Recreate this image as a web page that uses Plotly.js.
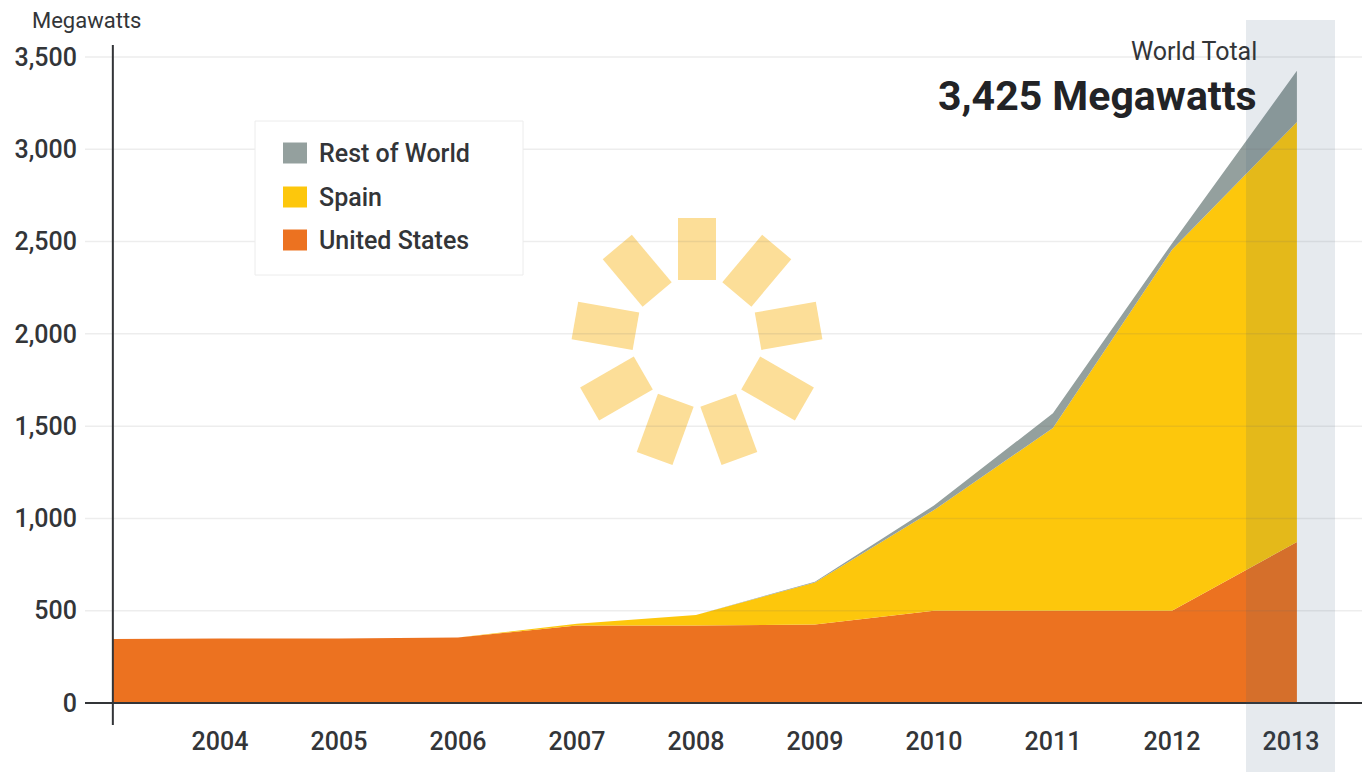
<!DOCTYPE html>
<html>
<head>
<meta charset="utf-8">
<script src="https://cdn.plot.ly/plotly-3.0.1.min.js"></script>
<style>html,body{margin:0;padding:0;background:#fff;overflow:hidden}#chart{width:1362px;height:772px}</style>
</head>
<body>
<div id="chart"></div>
<script>
// Installed solar-thermal capacity by region, megawatts (stacked increments)
const years = [2003.1, 2004, 2005, 2006, 2007, 2008, 2009, 2010, 2011, 2012, 2013.05];
const unitedStates = [347, 350, 350, 355, 420, 420, 425, 500, 500, 500, 872];
const spain = [0, 0, 0, 0, 10, 57, 228, 545, 990, 1955, 2276];
const restOfWorld = [0, 0, 0, 0, 0, 0, 4, 25, 80, 35, 277];

const yearTicks = [2004, 2005, 2006, 2007, 2008, 2009, 2010, 2011, 2012, 2013];
const valueTicks = [0, 500, 1000, 1500, 2000, 2500, 3000, 3500];

const seriesNames = ['United States', 'Spain', 'Rest of World'];
const seriesColors = ['#EC7220', '#FDC70C', '#94A09E'];
const seriesValues = [unitedStates, spain, restOfWorld];

const ink = '#333538';
const fontFamily = 'Roboto, "Liberation Sans", sans-serif';

// Page frame of the plot area
const W = 1362, H = 772, plotL = 85, plotT = 20;
const px = v => (v - plotL) / (W - plotL);
const py = v => 1 - (v - plotT) / (H - plotT);

const traces = seriesNames.map((name, i) => ({
  type: 'scatter', mode: 'none', name, x: years, y: seriesValues[i],
  stackgroup: 'capacity', fillcolor: seriesColors[i], hoverinfo: 'x+y+name'
}));

const shapes = [];

// Sun emblem: nine rays spaced 40 degrees apart, behind the gridlines
const sunX = 697, sunY = 342, rayIn = 62, rayOut = 124, rayHalf = 19;
const rayAngles = [0, 40, 80, 120, 160, 200, 240, 280, 320];
rayAngles.forEach(deg => {
  const a = deg * Math.PI / 180, ux = Math.sin(a), uy = -Math.cos(a), nx = -uy, ny = ux;
  const corners = [[rayIn, -rayHalf], [rayOut, -rayHalf], [rayOut, rayHalf], [rayIn, rayHalf]]
    .map(([r, s]) => `${px(sunX + ux * r + nx * s)},${py(sunY + uy * r + ny * s)}`);
  shapes.push({
    type: 'path', xref: 'paper', yref: 'paper', layer: 'below',
    path: 'M' + corners.join('L') + 'Z', fillcolor: '#FCDE98', line: { width: 0 }
  });
});

// Gridlines run over the stacked areas, so they are translucent overlays
valueTicks.filter(v => v > 0).forEach(v => shapes.push({
  type: 'line', xref: 'paper', yref: 'y', x0: 0, x1: 1, y0: v, y1: v, layer: 'above',
  line: { color: 'rgba(110,110,110,0.12)', width: 1.5 }
}));

// Highlight band for the latest year
shapes.push({
  type: 'rect', xref: 'paper', yref: 'paper', layer: 'above',
  x0: px(1246), x1: px(1335), y0: 0, y1: 1,
  fillcolor: 'rgba(62,91,126,0.13)', line: { width: 0 }
});

// Vertical axis rule
shapes.push({
  type: 'line', xref: 'x', yref: 'y', x0: 2003.1, x1: 2003.1, y0: -119, y1: 3565, layer: 'above',
  line: { color: ink, width: 2 }
});

// Legend panel and swatches
shapes.push({
  type: 'rect', xref: 'paper', yref: 'paper', layer: 'above',
  x0: px(255), x1: px(523), y0: py(275), y1: py(121),
  fillcolor: '#fff', line: { color: '#ECECEC', width: 1 }
});
const legendRows = [2, 1, 0];
const legendY = [153, 197, 240];
legendRows.forEach((s, row) => shapes.push({
  type: 'rect', xref: 'paper', yref: 'paper', layer: 'above',
  x0: px(283), x1: px(307), y0: py(legendY[row] + 10.5), y1: py(legendY[row] - 10.5),
  fillcolor: seriesColors[s], line: { width: 0 }
}));

const note = (x, y, text, size, anchor, weight, color) => ({
  xref: 'paper', yref: 'paper', x: px(x), y: py(y), text, showarrow: false,
  xanchor: anchor, yanchor: 'middle', borderpad: 0,
  font: { family: fontFamily, size, color: color || ink, weight: weight || 400 }
});

const annotations = [
  note(31, 21, 'Megawatts', 22, 'left'),
  note(1258, 52, 'World Total', 25, 'right'),
  note(1258, 96, '3,425 Megawatts', 41, 'right', 700, '#222326')
];
legendRows.forEach((s, row) => annotations.push(note(318, legendY[row], seriesNames[s], 25, 'left', 500)));

const layout = {
  width: W, height: H, showlegend: false,
  margin: { l: plotL, r: 0, t: plotT, b: 0, pad: 0 },
  paper_bgcolor: 'rgba(0,0,0,0)', plot_bgcolor: 'rgba(0,0,0,0)',
  font: { family: fontFamily, color: ink },
  xaxis: {
    range: [2002.866, 2013.597], anchor: 'free', position: py(703),
    tickmode: 'array', tickvals: yearTicks, ticktext: yearTicks.map(String),
    showgrid: false, zeroline: false, showline: true, linecolor: ink, linewidth: 2,
    ticks: '', ticklabelstandoff: 16, tickfont: { family: fontFamily, size: 25, color: ink, weight: 500 }
  },
  yaxis: {
    range: [-373.8, 3700.4], domain: [0, 1],
    tickmode: 'array', tickvals: valueTicks, tickformat: ',d',
    showgrid: false, zeroline: false, showline: false,
    ticks: '', ticklabelstandoff: 7, tickfont: { family: fontFamily, size: 25, color: ink, weight: 500 }
  },
  shapes, annotations
};

Plotly.newPlot('chart', traces, layout, { displayModeBar: false, responsive: false });
</script>
</body>
</html>
